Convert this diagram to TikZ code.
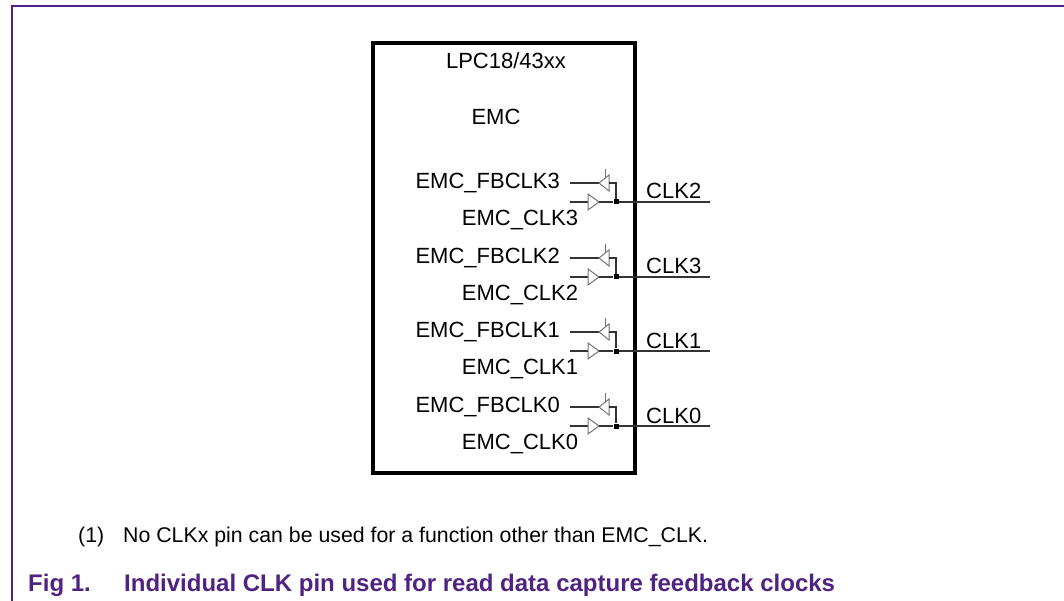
\documentclass[tikz,border=0pt]{standalone}
\usepackage{fontspec}
\setmainfont{Liberation Sans}
\definecolor{nxp}{RGB}{80,35,130}
\begin{document}
\begin{tikzpicture}[
        x=1pt, y=-1pt,
        chip/.style={draw, line width=4pt, minimum width=262pt, minimum height=430pt, inner sep=0},
        lbl/.style={inner sep=0, font=\fontsize{22}{24}\selectfont},
        txt/.style={inner sep=0, anchor=base west, font=\fontsize{21.3}{24}\selectfont},
        figcap/.style={inner sep=0, anchor=base west, text=nxp, font=\bfseries\fontsize{24}{28}\selectfont},
        wire/.style={draw=black!80, line width=1.1pt},
        buf/.style={draw=black!55, line width=1pt},
        junc/.style={fill=black, inner sep=0, minimum size=5pt},
    ]
    \useasboundingbox (0,0) rectangle (1064,601);
    \draw[nxp, line width=2pt] (11.7,601) -- (11.7,6.3) -- (1064,6.3);

    \node[chip] (chip) at (504,258) {};
    \node[lbl] (part) at (506,61) {LPC18/43xx};
    \node[lbl] (emc) at (496,117) {EMC};

    \foreach \y/\fb/\pin [count=\i] in {183/3/2, 258/2/3, 332/1/1, 407/0/0} {
        \node[lbl, anchor=east] (fb\i) at (560,\y) {EMC\_FBCLK\fb};
        \node[lbl] (ck\i) at (520,\y+37) {EMC\_CLK\fb};
        \node[lbl, anchor=base west] (pin\i) at (646,\y+16) {CLK\pin};
        \node[junc] (j\i) at (616,\y+19) {};
        \coordinate (a\i) at (570,\y);
        \coordinate (b\i) at (599,\y);
        \coordinate (c\i) at (570,\y+19);
        \coordinate (d\i) at (588,\y+19);
        \coordinate (e\i) at (710,\y+19);
        % feedback buffer
        \draw[wire] (a\i) -- (b\i);
        \draw[buf] (b\i) -- ++(10,-8) -- ++(0,16) -- cycle;
        \draw[buf] (605,\y-14) -- (605,\y-5);
        \draw[wire] ([xshift=10pt]b\i) -| (j\i);
        % clock buffer
        \draw[wire] (c\i) -- (d\i);
        \draw[buf] (d\i) -- ++(0,-8) -- ++(11,8) -- ++(-11,8) -- cycle;
        \draw[wire] ([xshift=11pt]d\i) -- (j\i) -- (e\i);
    }

    \node[txt] (num) at (78,542) {(1)};
    \node[txt] (note) at (123,542) {No CLKx pin can be used for a function other than EMC\_CLK.};
    \node[figcap] (fig) at (28,591) {Fig 1.};
    \node[figcap] (title) at (124,591) {Individual CLK pin used for read data capture feedback clocks};
\end{tikzpicture}
\end{document}
